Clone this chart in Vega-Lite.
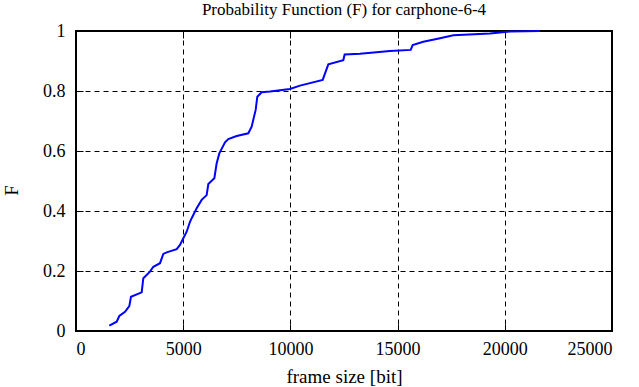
{
  "$schema": "https://vega.github.io/schema/vega-lite/v6.json",
  "width": 536,
  "height": 300,
  "autosize": {"type": "none"},
  "padding": {"left": 76, "top": 31, "right": 27, "bottom": 56},
  "config": {
    "font": "Liberation Serif",
    "view": {"stroke": "#000", "strokeWidth": 2},
    "axis": {
      "domain": false,
      "grid": true,
      "gridColor": "#000",
      "gridDash": [5, 4],
      "gridWidth": 1,
      "gridOpacity": 1,
      "tickColor": "#000",
      "tickWidth": 1,
      "labelFont": "Liberation Serif",
      "labelFontSize": 18,
      "labelColor": "#000",
      "titleFont": "Liberation Serif",
      "titleFontSize": 19,
      "titleFontWeight": "normal",
      "titleColor": "#000"
    }
  },
  "title": {
    "text": "Probability Function (F) for carphone-6-4",
    "font": "Liberation Serif",
    "fontSize": 17,
    "fontWeight": "normal",
    "color": "#000",
    "offset": 3
  },
  "data": {
    "values": [
      {"size": 1554, "F": 0.018},
      {"size": 1897, "F": 0.031},
      {"size": 2021, "F": 0.050},
      {"size": 2286, "F": 0.064},
      {"size": 2487, "F": 0.083},
      {"size": 2565, "F": 0.114},
      {"size": 3063, "F": 0.129},
      {"size": 3140, "F": 0.176},
      {"size": 3451, "F": 0.198},
      {"size": 3607, "F": 0.214},
      {"size": 3918, "F": 0.226},
      {"size": 4073, "F": 0.257},
      {"size": 4229, "F": 0.262},
      {"size": 4696, "F": 0.273},
      {"size": 4851, "F": 0.287},
      {"size": 5005, "F": 0.309},
      {"size": 5162, "F": 0.331},
      {"size": 5317, "F": 0.364},
      {"size": 5395, "F": 0.376},
      {"size": 5628, "F": 0.409},
      {"size": 5861, "F": 0.437},
      {"size": 6094, "F": 0.453},
      {"size": 6172, "F": 0.490},
      {"size": 6452, "F": 0.509},
      {"size": 6561, "F": 0.559},
      {"size": 6685, "F": 0.592},
      {"size": 6950, "F": 0.629},
      {"size": 7105, "F": 0.640},
      {"size": 7495, "F": 0.650},
      {"size": 8037, "F": 0.659},
      {"size": 8193, "F": 0.681},
      {"size": 8302, "F": 0.714},
      {"size": 8380, "F": 0.737},
      {"size": 8457, "F": 0.781},
      {"size": 8660, "F": 0.796},
      {"size": 9049, "F": 0.798},
      {"size": 9981, "F": 0.807},
      {"size": 10448, "F": 0.818},
      {"size": 11506, "F": 0.837},
      {"size": 11768, "F": 0.889},
      {"size": 12468, "F": 0.903},
      {"size": 12530, "F": 0.922},
      {"size": 13246, "F": 0.924},
      {"size": 14646, "F": 0.933},
      {"size": 15610, "F": 0.937},
      {"size": 15703, "F": 0.953},
      {"size": 16200, "F": 0.964},
      {"size": 16978, "F": 0.976},
      {"size": 17600, "F": 0.986},
      {"size": 19310, "F": 0.992},
      {"size": 20243, "F": 0.998},
      {"size": 21642, "F": 1.0}
    ]
  },
  "layer": [
    {
      "mark": {"type": "line", "color": "#0000ff", "strokeWidth": 2},
      "encoding": {
        "x": {
          "field": "size", "type": "quantitative",
          "scale": {"domain": [0, 25000], "nice": false},
          "axis": {"title": "frame size [bit]", "values": [0, 5000, 10000, 15000, 20000, 25000], "format": "d", "tickSize": -7, "labelPadding": 16, "titlePadding": 9}
        },
        "y": {
          "field": "F", "type": "quantitative",
          "scale": {"domain": [0, 1], "nice": false},
          "axis": {"title": "F", "values": [0, 0.2, 0.4, 0.6, 0.8, 1], "format": "~g", "tickSize": -7, "labelPadding": 18, "titlePadding": 21, "titleY": 159}
        }
      }
    },
    {
      "mark": {"type": "line", "opacity": 0},
      "encoding": {
        "x": {
          "field": "size", "type": "quantitative",
          "axis": {"orient": "top", "title": null, "labels": false, "grid": false, "values": [0, 5000, 10000, 15000, 20000, 25000], "tickSize": -7}
        },
        "y": {
          "field": "F", "type": "quantitative",
          "axis": {"orient": "right", "title": null, "labels": false, "grid": false, "values": [0, 0.2, 0.4, 0.6, 0.8, 1], "tickSize": -7}
        }
      }
    }
  ],
  "resolve": {"axis": {"x": "independent", "y": "independent"}}
}
